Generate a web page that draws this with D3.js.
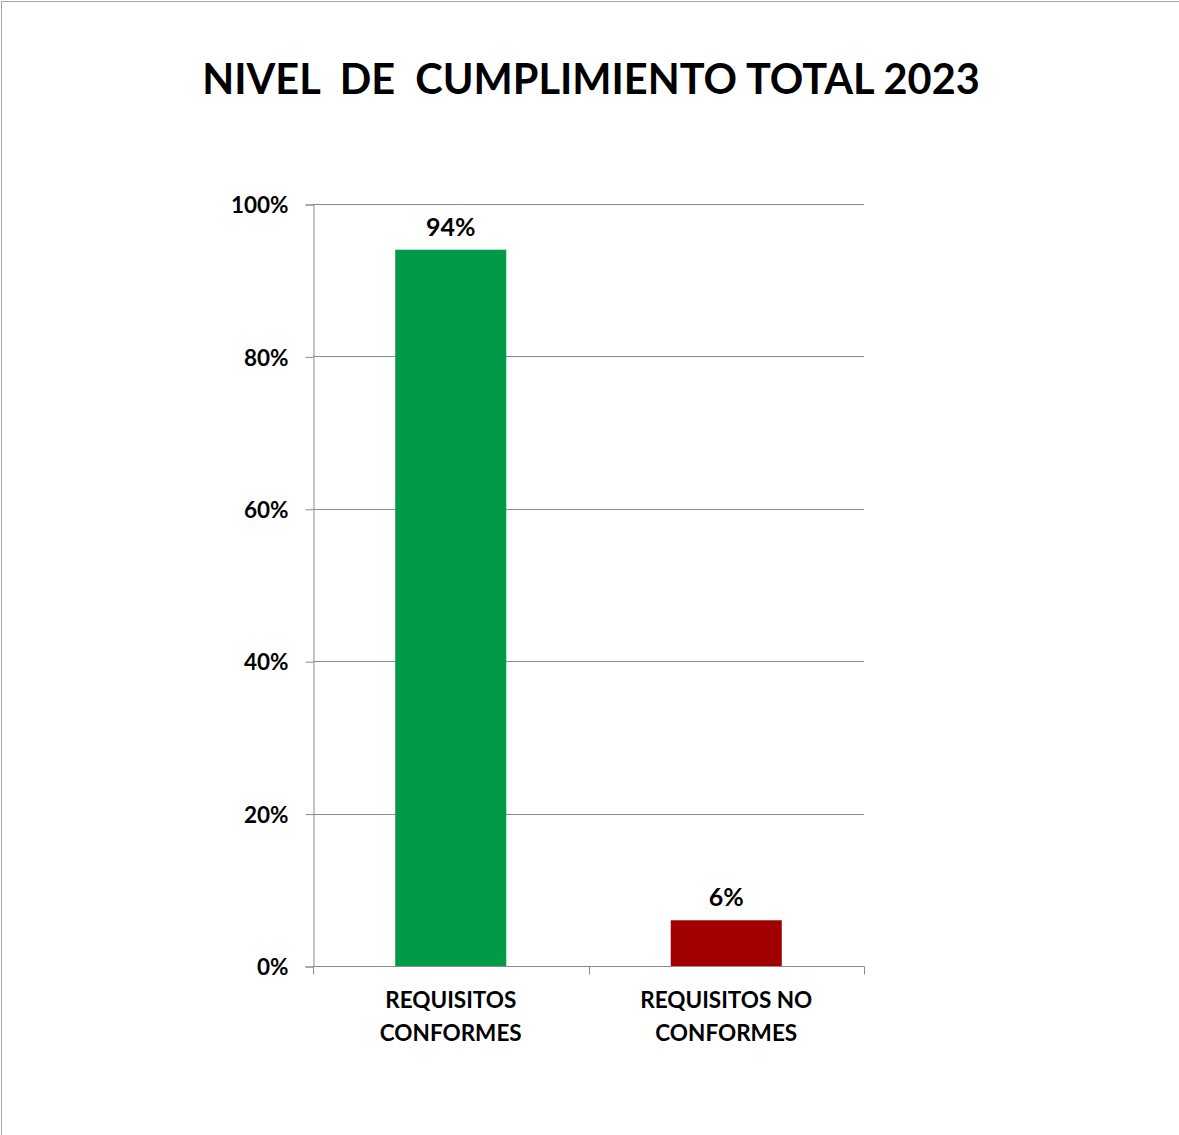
<!DOCTYPE html>
<html>
<head>
<meta charset="utf-8">
<script src="https://cdn.jsdelivr.net/npm/d3@7"></script>
<style>
  html, body { margin: 0; padding: 0; background: #fff; }
  svg { display: block; }
  text { font-family: Lato, "Open Sans", sans-serif; font-weight: 700; fill: #000; white-space: pre; }
</style>
</head>
<body>
<svg id="chart" width="1179" height="1135"></svg>
<script>
// Chart content
const chartTitle = "NIVEL  DE  CUMPLIMIENTO TOTAL 2023";
const categories = [["REQUISITOS", "CONFORMES"], ["REQUISITOS NO", "CONFORMES"]];
const values = [0.94, 0.06];
const barColors = ["#009A49", "#A00000"];
const yTicks = [0, 0.2, 0.4, 0.6, 0.8, 1.0];

const svg = d3.select("#chart");
const W = 1179, H = 1135;
const plot = { left: 313, right: 864, top: 204, bottom: 966 };

// Outer frame
svg.append("rect")
  .attr("x", 1.5).attr("y", 1.5)
  .attr("width", W + 10).attr("height", H + 10)
  .attr("fill", "#fff").attr("stroke", "#a6a6a6").attr("stroke-width", 1);

// Title
svg.append("text")
  .attr("x", 591).attr("y", 94)
  .attr("text-anchor", "middle")
  .style("font-size", "41.5px")
  .text(chartTitle);

const x = d3.scaleBand()
  .domain(d3.range(categories.length))
  .range([plot.left, plot.right])
  .paddingInner(0.597).paddingOuter(0.2985);

const y = d3.scaleLinear().domain([0, 1]).range([plot.bottom, plot.top]);

// Horizontal gridlines
svg.append("g").selectAll("line")
  .data(yTicks.filter(t => t > 0))
  .join("line")
  .attr("x1", plot.left).attr("x2", plot.right)
  .attr("y1", d => Math.round(y(d)) + 0.5).attr("y2", d => Math.round(y(d)) + 0.5)
  .attr("stroke", "#8c8c8c").attr("stroke-width", 1);

// Y axis
const yAxis = d3.axisLeft(y)
  .tickValues(yTicks)
  .tickFormat(d3.format(".0%"))
  .tickSize(8)
  .tickPadding(17);
const gy = svg.append("g")
  .attr("transform", `translate(${plot.left + 0.5},0.5)`)
  .call(yAxis);
gy.select(".domain").attr("stroke", "#8c8c8c");
gy.selectAll(".tick line").attr("stroke", "#8c8c8c");
gy.selectAll(".tick text")
  .style("font-size", "22.5px")
  .style("font-family", "Lato, sans-serif")
  .style("font-weight", 700)
  .attr("fill", "#000")
  .attr("dy", "0.36em");

// Bars
svg.append("g").selectAll("rect")
  .data(values)
  .join("rect")
  .attr("x", (d, i) => x(i))
  .attr("width", x.bandwidth())
  .attr("y", d => y(d))
  .attr("height", d => y(0) - y(d))
  .attr("fill", (d, i) => barColors[i]);

// X axis baseline and category separators
const xBase = Math.round(y(0)) + 0.5;
svg.append("line")
  .attr("x1", plot.left).attr("x2", plot.right)
  .attr("y1", xBase).attr("y2", xBase)
  .attr("stroke", "#8c8c8c");
svg.append("g").selectAll("line")
  .data(d3.range(categories.length + 1))
  .join("line")
  .attr("x1", i => Math.round(plot.left + i * (plot.right - plot.left) / categories.length) + 0.5)
  .attr("x2", i => Math.round(plot.left + i * (plot.right - plot.left) / categories.length) + 0.5)
  .attr("y1", xBase).attr("y2", xBase + 8)
  .attr("stroke", "#8c8c8c");

// Value labels
svg.append("g").selectAll("text")
  .data(values)
  .join("text")
  .attr("x", (d, i) => x(i) + x.bandwidth() / 2)
  .attr("y", d => y(d) - 14)
  .attr("text-anchor", "middle")
  .style("font-size", "25px")
  .text(d => d3.format(".0%")(d));

// Category labels
const catG = svg.append("g").selectAll("text")
  .data(categories)
  .join("text")
  .attr("x", (d, i) => x(i) + x.bandwidth() / 2)
  .attr("y", 1008)
  .attr("text-anchor", "middle")
  .style("font-size", "22.5px");
catG.selectAll("tspan")
  .data(d => d)
  .join("tspan")
  .attr("x", function () { return this.parentNode.getAttribute("x"); })
  .attr("dy", (d, i) => i === 0 ? 0 : 33)
  .text(d => d);
</script>
</body>
</html>
